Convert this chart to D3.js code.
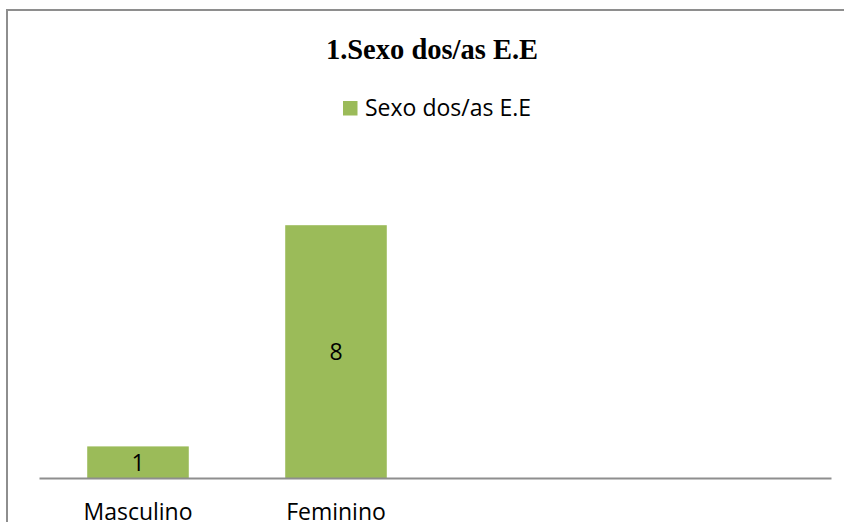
<!DOCTYPE html>
<html>
<head>
  <script src="https://d3js.org/d3.v7.min.js"></script>
  <meta charset="utf-8">
  <title>Sexo dos/as E.E</title>
  <style>
    body {margin: 0; background: #fff;}
    svg {display: block;}
  </style>
</head>
<body>
  <div id="chart"></div>
  <script>
    // data (two empty slots on the right)
    const categories = ["Masculino", "Feminino", "", ""];
    const values = [1, 8, null, null];
    const seriesName = "Sexo dos/as E.E";
    const title = "1.Sexo dos/as E.E";

    const width = 844, height = 522;
    const plot = {left: 39, right: 831, top: 162, bottom: 478};

    const svg = d3.select("#chart").append("svg")
                  .attr("width", width)
                  .attr("height", height);

    // chart frame, runs off the right and bottom edge
    svg.append("rect")
       .attr("x", 7).attr("y", 10)
       .attr("width", 900).attr("height", 600)
       .attr("fill", "none")
       .attr("stroke", "#8e8e8e")
       .attr("stroke-width", 2);

    const x = d3.scaleBand()
                .domain(d3.range(categories.length))
                .range([plot.left, plot.right])
                .paddingInner(0.487)
                .paddingOuter(0.2435);
    const y = d3.scaleLinear().domain([0, 10]).range([plot.bottom, plot.top]);

    const data = categories.map((c, i) => ({i: i, name: c, value: values[i]}))
                           .filter(d => d.value != null);

    svg.selectAll(".bar")
       .data(data)
       .enter().append("rect")
       .attr("class", "bar")
       .attr("x", d => x(d.i))
       .attr("y", d => y(d.value))
       .attr("width", x.bandwidth())
       .attr("height", d => y(0) - y(d.value))
       .attr("fill", "#9bbb59");

    // value labels centred in the bars
    svg.selectAll(".val")
       .data(data)
       .enter().append("text")
       .attr("x", d => x(d.i) + x.bandwidth() / 2)
       .attr("y", d => (y(d.value) + y(0)) / 2 + 8.5)
       .attr("text-anchor", "middle")
       .style("font-family", "'Open Sans', sans-serif")
       .style("font-size", "23px")
       .attr("fill", "#000")
       .text(d => d.value);

    // x axis line
    const xAxis = d3.axisBottom(x).tickSize(0).tickPadding(0).tickFormat(i => categories[i]);
    const gx = svg.append("g")
       .attr("transform", `translate(0,${plot.bottom})`)
       .call(xAxis);
    gx.select(".domain").attr("stroke", "#8e8e8e").attr("stroke-width", 2);
    gx.selectAll("text")
      .attr("y", 42)
      .attr("dy", 0)
      .style("font-family", "'Open Sans', sans-serif")
      .style("font-size", "23px")
      .attr("fill", "#000");

    // title
    svg.append("text")
       .attr("x", 432).attr("y", 58.5)
       .attr("text-anchor", "middle")
       .style("font-family", "'Liberation Serif', 'Times New Roman', serif")
       .style("font-weight", "bold")
       .style("font-size", "28.5px")
       .text(title);

    // legend
    const legend = svg.append("g").attr("transform", "translate(343,101)");
    legend.append("rect")
          .attr("width", 14.5).attr("height", 14.5)
          .attr("fill", "#9bbb59");
    legend.append("text")
          .attr("x", 22).attr("y", 14.7)
          .style("font-family", "'Open Sans', sans-serif")
          .style("font-size", "23px")
          .text(seriesName);
  </script>
</body>
</html>
